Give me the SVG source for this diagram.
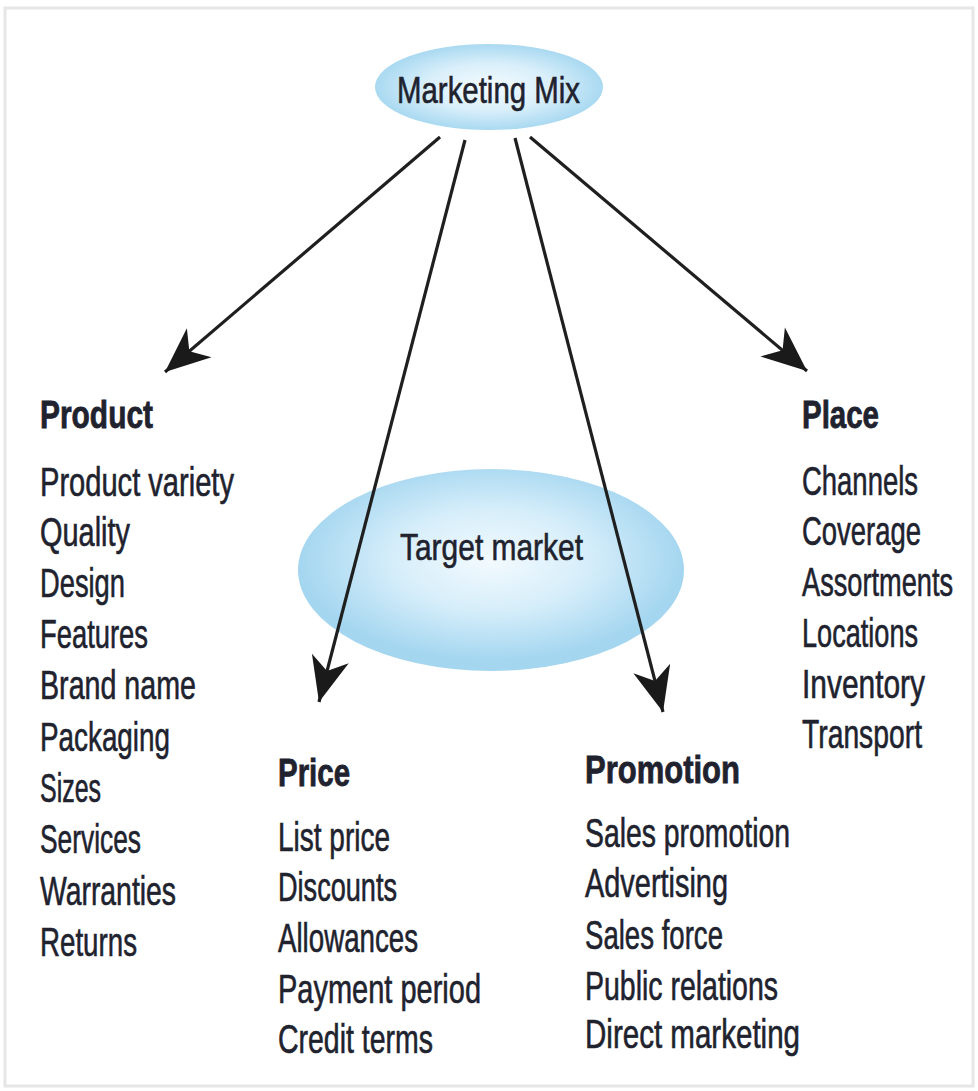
<svg xmlns="http://www.w3.org/2000/svg" width="978" height="1091" viewBox="0 0 978 1091">
  <defs>
    <radialGradient id="mixFill" cx="50%" cy="50%" r="50%">
      <stop offset="0%" stop-color="#f4fbfe"/>
      <stop offset="55%" stop-color="#d9effa"/>
      <stop offset="100%" stop-color="#a9d9f1"/>
    </radialGradient>
    <radialGradient id="targetFill" cx="50%" cy="45%" r="50%">
      <stop offset="0%" stop-color="#f3fafe"/>
      <stop offset="50%" stop-color="#d6eefa"/>
      <stop offset="100%" stop-color="#a4d6f0"/>
    </radialGradient>
    <marker id="head" markerUnits="userSpaceOnUse" markerWidth="54" markerHeight="44" viewBox="-48 -22 54 44" refX="0" refY="0" orient="auto">
      <path d="M0,0 L-45,-19 L-32,0 L-45,19 Z" fill="#1a1a1a"/>
    </marker>
    <style>
      .t { font-family: "Liberation Sans", Arial, sans-serif; fill: #20222e; stroke: #20222e; stroke-width: 0.6; font-size: 40px; }
      .h { font-weight: bold; font-size: 39px; stroke-width: 0.8; }
      .e { font-size: 37px; }
      .c { stroke: #1f1f1f; stroke-width: 3.2; fill: none; marker-end: url(#head); }
    </style>
  </defs>

  <!-- page frame -->
  <rect x="0" y="0" width="978" height="1091" fill="#ffffff"/>
  <rect x="5" y="8" width="968" height="1078" fill="#ffffff" stroke="#e6e6e6" stroke-width="3"/>

  <!-- central ellipses -->
  <g id="target-market">
    <ellipse cx="491" cy="570" rx="193" ry="101" fill="url(#targetFill)"/>
    <text class="t e" x="400" y="560" textLength="183" lengthAdjust="spacingAndGlyphs">Target market</text>
  </g>

  <g id="marketing-mix">
    <ellipse cx="489" cy="87" rx="114" ry="43" fill="url(#mixFill)"/>
    <text class="t e" x="397" y="103" textLength="183" lengthAdjust="spacingAndGlyphs">Marketing Mix</text>
  </g>

  <!-- connectors -->
  <g id="connectors">
    <line class="c" x1="440" y1="137" x2="165" y2="372"/>
    <line class="c" x1="465" y1="140" x2="319" y2="702"/>
    <line class="c" x1="515" y1="138" x2="663" y2="712"/>
    <line class="c" x1="530" y1="137" x2="807" y2="371"/>
  </g>

  <!-- Product -->
  <g id="product">
    <text class="t h" x="40" y="428" textLength="113" lengthAdjust="spacingAndGlyphs">Product</text>
    <text class="t" x="40" y="496" textLength="194" lengthAdjust="spacingAndGlyphs">Product variety</text>
    <text class="t" x="40" y="546" textLength="90" lengthAdjust="spacingAndGlyphs">Quality</text>
    <text class="t" x="40" y="597" textLength="85" lengthAdjust="spacingAndGlyphs">Design</text>
    <text class="t" x="40" y="648" textLength="108" lengthAdjust="spacingAndGlyphs">Features</text>
    <text class="t" x="40" y="699" textLength="156" lengthAdjust="spacingAndGlyphs">Brand name</text>
    <text class="t" x="40" y="751" textLength="130" lengthAdjust="spacingAndGlyphs">Packaging</text>
    <text class="t" x="40" y="802" textLength="61" lengthAdjust="spacingAndGlyphs">Sizes</text>
    <text class="t" x="40" y="853" textLength="101" lengthAdjust="spacingAndGlyphs">Services</text>
    <text class="t" x="40" y="905" textLength="136" lengthAdjust="spacingAndGlyphs">Warranties</text>
    <text class="t" x="40" y="956" textLength="97" lengthAdjust="spacingAndGlyphs">Returns</text>
  </g>

  <!-- Price -->
  <g id="price">
    <text class="t h" x="278" y="786" textLength="72" lengthAdjust="spacingAndGlyphs">Price</text>
    <text class="t" x="278" y="851" textLength="112" lengthAdjust="spacingAndGlyphs">List price</text>
    <text class="t" x="278" y="901" textLength="119" lengthAdjust="spacingAndGlyphs">Discounts</text>
    <text class="t" x="278" y="952" textLength="140" lengthAdjust="spacingAndGlyphs">Allowances</text>
    <text class="t" x="278" y="1003" textLength="203" lengthAdjust="spacingAndGlyphs">Payment period</text>
    <text class="t" x="278" y="1053" textLength="155" lengthAdjust="spacingAndGlyphs">Credit terms</text>
  </g>

  <!-- Promotion -->
  <g id="promotion">
    <text class="t h" x="585" y="783" textLength="155" lengthAdjust="spacingAndGlyphs">Promotion</text>
    <text class="t" x="585" y="847" textLength="205" lengthAdjust="spacingAndGlyphs">Sales promotion</text>
    <text class="t" x="585" y="897" textLength="143" lengthAdjust="spacingAndGlyphs">Advertising</text>
    <text class="t" x="585" y="949" textLength="138" lengthAdjust="spacingAndGlyphs">Sales force</text>
    <text class="t" x="585" y="1000" textLength="193" lengthAdjust="spacingAndGlyphs">Public relations</text>
    <text class="t" x="585" y="1048" textLength="215" lengthAdjust="spacingAndGlyphs">Direct marketing</text>
  </g>

  <!-- Place -->
  <g id="place">
    <text class="t h" x="802" y="428" textLength="77" lengthAdjust="spacingAndGlyphs">Place</text>
    <text class="t" x="802" y="495" textLength="116" lengthAdjust="spacingAndGlyphs">Channels</text>
    <text class="t" x="802" y="545" textLength="119" lengthAdjust="spacingAndGlyphs">Coverage</text>
    <text class="t" transform="translate(802 596) scale(0.68 1)" x="0" y="0">Assortments</text>
    <text class="t" x="802" y="647" textLength="116" lengthAdjust="spacingAndGlyphs">Locations</text>
    <text class="t" x="802" y="698" textLength="123" lengthAdjust="spacingAndGlyphs">Inventory</text>
    <text class="t" x="802" y="748" textLength="120" lengthAdjust="spacingAndGlyphs">Transport</text>
  </g>
</svg>
